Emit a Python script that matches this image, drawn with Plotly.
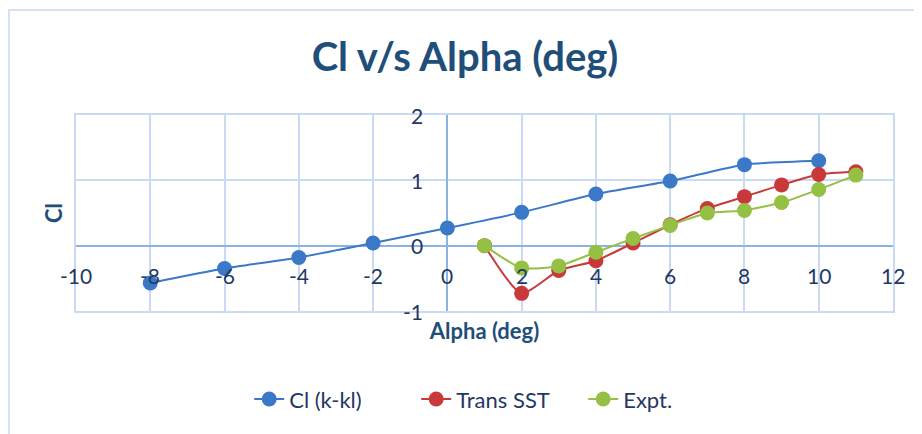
import plotly.graph_objects as go

# ---- data ----
ALPHA_KKL = [-8, -6, -4, -2, 0, 2, 4, 6, 8, 10]
CL_KKL = [-0.57, -0.35, -0.18, 0.04, 0.27, 0.51, 0.79, 0.99, 1.24, 1.30]

ALPHA_SST = [1, 2, 3, 4, 5, 6, 7, 8, 9, 10, 11]
CL_SST = [0.0, -0.73, -0.38, -0.23, 0.04, 0.32, 0.57, 0.75, 0.93, 1.09, 1.13]

ALPHA_EXP = [1, 2, 3, 4, 5, 6, 7, 8, 9, 10, 11]
CL_EXP = [0.0, -0.34, -0.31, -0.10, 0.11, 0.31, 0.50, 0.54, 0.66, 0.86, 1.08]

X_TICKS = [-10, -8, -6, -4, -2, 0, 2, 4, 6, 8, 10, 12]
Y_TICKS = [-1, 0, 1, 2]

BLUE = "#3b78c8"
RED = "#c9393a"
GREEN = "#94c043"
NAVY = "#1f3864"
TITLE_C = "#1f4e79"
GRID = "#c9daf2"
ZERO = "#8db3e2"
FONT = "Lato, 'Open Sans', sans-serif"

fig = go.Figure()
for name, xs, ys, col in [
    ("Cl (k-kl)", ALPHA_KKL, CL_KKL, BLUE),
    ("Trans SST", ALPHA_SST, CL_SST, RED),
    ("Expt.", ALPHA_EXP, CL_EXP, GREEN),
]:
    fig.add_trace(go.Scatter(
        x=xs, y=ys, name=name, mode="lines+markers",
        line=dict(color=col, width=2, shape="spline", smoothing=0.6),
        marker=dict(color=col, size=15),
    ))

# tick labels placed Excel-style next to the crossing axes
for t in X_TICKS:
    fig.add_annotation(x=t, y=0, text=str(t), showarrow=False, yshift=-30,
                       font=dict(size=21, color=NAVY, family=FONT))
for t in Y_TICKS:
    fig.add_annotation(x=0, y=t, text=str(t), showarrow=False, xanchor="right",
                       xshift=-22, font=dict(size=21, color=NAVY, family=FONT))

# outer chart border (only top/left edges are visible in the frame)
fig.add_shape(type="rect", xref="paper", yref="paper", x0=-0.082, x1=1.2,
              y0=-0.9, y1=1.536, line=dict(color="#d6e2f3", width=2))

# page body adds an 8px offset, so the figure is shrunk to fit the window
fig.update_layout(
    width=914, height=426,
    paper_bgcolor="white", plot_bgcolor="white",
    margin=dict(l=68, r=29, t=107, b=123, autoexpand=False),
    font=dict(family=FONT, color=NAVY, size=16),
    title=dict(text="<b>Cl v/s Alpha (deg)</b>", x=0.5, xanchor="center",
               y=0.885, yanchor="middle",
               font=dict(size=40, color=TITLE_C, family=FONT)),
    xaxis=dict(range=[-10, 12], dtick=2, tick0=0, showticklabels=False,
               showgrid=True, gridcolor=GRID, gridwidth=1.5, automargin=False,
               zeroline=True, zerolinecolor=ZERO, zerolinewidth=2,
               showline=True, mirror=True, linecolor=GRID, linewidth=1.5,
               title=dict(text="<b>Alpha (deg)</b>", standoff=12,
                          font=dict(size=22, color=TITLE_C, family=FONT))),
    yaxis=dict(range=[-1, 2], dtick=1, tick0=0, showticklabels=False,
               showgrid=True, gridcolor=GRID, gridwidth=1.5, automargin=False,
               zeroline=True, zerolinecolor=ZERO, zerolinewidth=2,
               showline=True, mirror=True, linecolor=GRID, linewidth=1.5,
               title=dict(text="<b>Cl</b>", standoff=6,
                          font=dict(size=22, color=TITLE_C, family=FONT))),
    legend=dict(orientation="h", x=0.212, xanchor="left", y=-0.45, yanchor="middle",
                font=dict(size=22, color=NAVY, family=FONT),
                entrywidth=122, entrywidthmode="pixels"),
    showlegend=True,
)

fig.write_html("out.html")
